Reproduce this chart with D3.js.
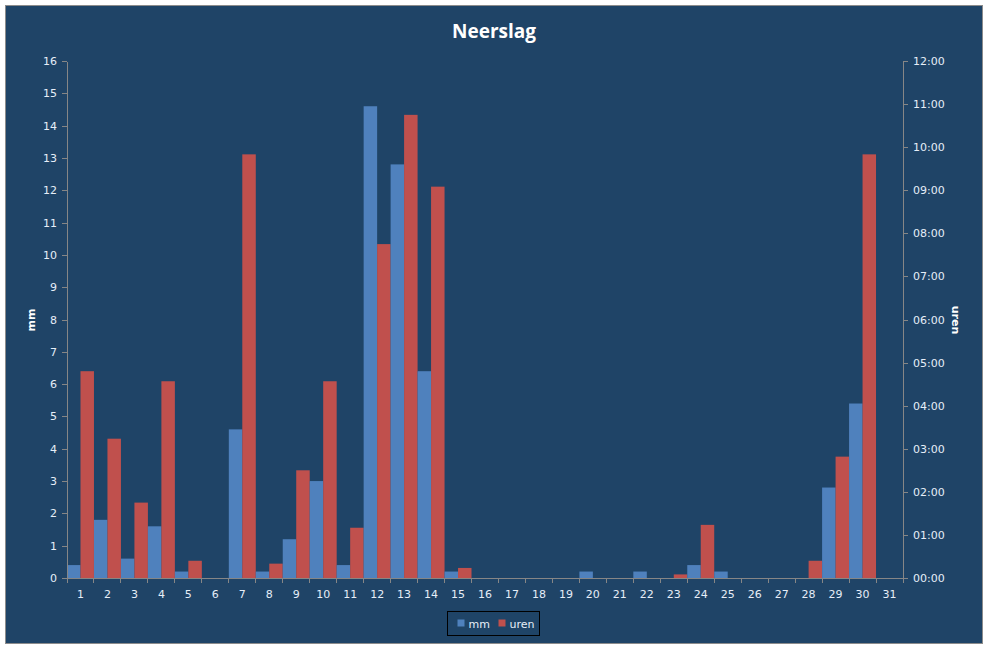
<!DOCTYPE html>
<html>
<head>
<meta charset="utf-8">
<script src="https://cdn.jsdelivr.net/npm/d3@7"></script>
<style>
  body { margin: 0; background: #fff; }
  .axis text { font: 11px "DejaVu Sans", sans-serif; fill: #e6eef8; }
  .axis path, .axis line { stroke: #868686; shape-rendering: crispEdges; }
</style>
</head>
<body>
<script>
// days of the month
var days = d3.range(1, 32).map(String);

// precipitation in mm per day
var mm = [0.4, 1.8, 0.6, 1.6, 0.2, 0, 4.6, 0.2, 1.2, 3.0,
          0.4, 14.6, 12.8, 6.4, 0.2, 0, 0, 0, 0, 0.2,
          0, 0.2, 0, 0.4, 0.2, 0, 0, 0, 2.8, 5.4, 0];

// duration of precipitation (h:mm) per day
var uren = ["4:48", "3:14", "1:45", "4:34", "0:24", "0:00", "9:50", "0:20", "2:30", "4:34",
            "1:10", "7:45", "10:45", "9:05", "0:14", "0:00", "0:00", "0:00", "0:00", "0:00",
            "0:00", "0:00", "0:05", "1:14", "0:00", "0:00", "0:00", "0:24", "2:49", "9:50", "0:00"];

var mmTicks = d3.range(0, 17);
var urenTicks = d3.range(0, 13);
var seriesNames = ["mm", "uren"];
var colors = {mm: "#4f81bd", uren: "#c0504d"};

function toHours(s) {
  var p = s.split(":");
  return +p[0] + (+p[1]) / 60;
}

var W = 987, H = 648;
var margin = {top: 61, right: 84, bottom: 70, left: 67},
    width = 903 - margin.left,
    height = 578 - margin.top;

var svg = d3.select("body").append("svg")
    .attr("width", W)
    .attr("height", H);

svg.append("rect")
    .attr("x", 5.5).attr("y", 5.5)
    .attr("width", 977).attr("height", 638)
    .attr("fill", "#1f4467")
    .attr("stroke", "#8c8c8c");

svg.append("text")
    .attr("x", 494).attr("y", 38)
    .attr("text-anchor", "middle")
    .style("font", "bold 19px 'Open Sans', sans-serif")
    .attr("fill", "#ffffff")
    .text("Neerslag");

var g = svg.append("g")
    .attr("transform", "translate(" + margin.left + "," + margin.top + ")");

var x = d3.scaleBand().domain(days).range([0, width]).padding(0);
var xs = d3.scaleBand().domain(seriesNames).range([0, x.bandwidth()]).padding(0);
var yL = d3.scaleLinear().domain([0, 16]).range([height, 0]);
var yR = d3.scaleLinear().domain([0, 12]).range([height, 0]);

var data = days.map(function(d, i) {
  return {day: d, mm: mm[i], uren: toHours(uren[i])};
});

// bars
var groups = g.selectAll(".day")
    .data(data)
  .enter().append("g")
    .attr("class", "day")
    .attr("transform", function(d) { return "translate(" + x(d.day) + ",0)"; });

groups.append("rect")
    .attr("x", xs("mm"))
    .attr("width", xs.bandwidth())
    .attr("y", function(d) { return yL(d.mm); })
    .attr("height", function(d) { return height - yL(d.mm); })
    .attr("fill", colors.mm);

groups.append("rect")
    .attr("x", xs("uren"))
    .attr("width", xs.bandwidth())
    .attr("y", function(d) { return yR(d.uren); })
    .attr("height", function(d) { return height - yR(d.uren); })
    .attr("fill", colors.uren);

// left axis
var yAxisL = d3.axisLeft(yL).tickValues(mmTicks).tickSize(5).tickSizeOuter(0).tickPadding(5);
g.append("g").attr("class", "axis").call(yAxisL);

// right axis
var yAxisR = d3.axisRight(yR).tickValues(urenTicks).tickSize(5).tickSizeOuter(0).tickPadding(5)
    .tickFormat(function(d) { return (d < 10 ? "0" : "") + d + ":00"; });
g.append("g").attr("class", "axis")
    .attr("transform", "translate(" + width + ",0)")
    .call(yAxisR);

// bottom axis: labels centred, ticks on boundaries
var xAxis = d3.axisBottom(x).tickSize(0).tickPadding(12);
var xg = g.append("g").attr("class", "axis")
    .attr("transform", "translate(0," + height + ")")
    .call(xAxis);
xg.select(".domain").remove();
xg.append("line").attr("x1", 0).attr("x2", width).attr("y1", 0.5).attr("y2", 0.5);
xg.selectAll(".bound")
    .data(days.concat(["end"]))
  .enter().append("line")
    .attr("class", "bound")
    .attr("x1", function(d) { return d === "end" ? width : x(d); })
    .attr("x2", function(d) { return d === "end" ? width : x(d); })
    .attr("y1", 0).attr("y2", 5);

// axis titles
svg.append("text")
    .attr("transform", "translate(35,320) rotate(-90)")
    .attr("text-anchor", "middle")
    .style("font", "bold 11px 'DejaVu Sans', sans-serif")
    .attr("fill", "#ffffff")
    .text("mm");

svg.append("text")
    .attr("transform", "translate(952,320) rotate(90)")
    .attr("text-anchor", "middle")
    .style("font", "bold 11px 'DejaVu Sans', sans-serif")
    .attr("fill", "#ffffff")
    .text("uren");

// legend
var lg = svg.append("g").attr("transform", "translate(447.5,611.5)");
lg.append("rect")
    .attr("width", 92).attr("height", 24)
    .attr("fill", "none").attr("stroke", "#000");
var items = lg.selectAll(".item")
    .data(seriesNames)
  .enter().append("g")
    .attr("class", "item")
    .attr("transform", function(d, i) { return "translate(" + (10 + i * 41) + ",0)"; });
items.append("rect")
    .attr("y", 8).attr("width", 7).attr("height", 7)
    .attr("fill", function(d) { return colors[d]; });
items.append("text")
    .attr("x", 11).attr("y", 16)
    .style("font", "11px 'DejaVu Sans', sans-serif")
    .attr("fill", "#e6eef8")
    .text(function(d) { return d; });
</script>
</body>
</html>
